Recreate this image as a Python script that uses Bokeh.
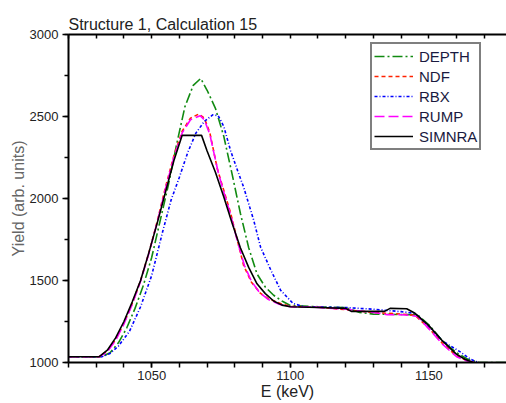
from bokeh.plotting import figure
from bokeh.models import Range1d, LinearAxis, SingleIntervalTicker, FixedTicker, Legend, LegendItem
from bokeh.embed import file_html
from bokeh.resources import INLINE

TITLE = "Structure 1, Calculation 15"
X_LABEL = "E (keV)"
Y_LABEL = "Yield (arb. units)"

E_DEPTH = [1020, 1032, 1035, 1038, 1041, 1044, 1047, 1050, 1053, 1056, 1059, 1062, 1065, 1067.7, 1070, 1073,
           1076, 1079, 1082, 1085, 1088, 1091, 1094, 1097, 1100, 1110, 1120, 1125, 1130, 1143, 1146, 1150,
           1155, 1160, 1164, 1168, 1180]
Y_DEPTH = [1035, 1035, 1060, 1120, 1210, 1330, 1470, 1640, 1860, 2080, 2330, 2560, 2690, 2732, 2660, 2550,
           2380, 2150, 1910, 1700, 1540, 1460, 1410, 1375, 1348, 1340, 1335, 1305, 1295, 1292, 1290, 1230,
           1130, 1060, 1020, 1000, 1000]

E_NDF = [1020, 1031, 1034, 1037, 1040, 1043, 1046, 1049, 1052, 1055, 1058, 1061, 1064, 1067, 1069, 1071,
         1073.7, 1076, 1078.5, 1081, 1083.2, 1086, 1089.3, 1092, 1096.5, 1100, 1110, 1120, 1130, 1140, 1145,
         1150, 1155, 1160, 1164, 1167]
Y_NDF = [1035, 1035, 1070, 1140, 1240, 1360, 1500, 1670, 1860, 2070, 2260, 2410, 2490, 2515, 2490, 2400,
         2180, 2050, 1910, 1740, 1590, 1490, 1421, 1390, 1360, 1342, 1338, 1322, 1305, 1295, 1288,
         1210, 1115, 1040, 1010, 1000]

E_RBX = [1020, 1032, 1035, 1038, 1042, 1046, 1050, 1054, 1057, 1060, 1063, 1066, 1069, 1072, 1074, 1076,
         1078.5, 1081, 1083.2, 1086.8, 1089.3, 1093, 1096.5, 1101, 1105, 1110, 1120, 1130, 1140, 1145,
         1150, 1155, 1161.5, 1165, 1168]
Y_RBX = [1035, 1035, 1055, 1100, 1190, 1340, 1530, 1800, 1990, 2130, 2280, 2400, 2470, 2510, 2505, 2440,
         2290, 2170, 2068, 1868, 1703, 1563, 1441, 1360, 1340, 1338, 1335, 1325, 1310, 1300,
         1220, 1130, 1063, 1020, 1000]

E_RUMP = [1020, 1031, 1034, 1037, 1040, 1043, 1046, 1049, 1052, 1055, 1058, 1061, 1064, 1067.5, 1069, 1071,
          1074, 1076, 1078.5, 1081, 1083.5, 1086, 1089, 1092, 1096, 1100, 1110, 1120, 1130, 1135, 1142,
          1146, 1150, 1155, 1160, 1164, 1167]
Y_RUMP = [1035, 1035, 1065, 1135, 1235, 1355, 1495, 1665, 1855, 2060, 2250, 2400, 2480, 2505, 2480, 2390,
          2160, 2040, 1900, 1735, 1590, 1495, 1425, 1385, 1355, 1340, 1336, 1325, 1305, 1292, 1290,
          1280, 1205, 1110, 1035, 1008, 1000]

E_SIMNRA = [1020, 1031, 1034, 1037, 1040, 1043, 1046, 1049, 1052, 1055, 1058, 1061, 1068, 1070, 1073, 1076,
            1079, 1082, 1085, 1088, 1091, 1094, 1097, 1100, 1110, 1120, 1122, 1134, 1136, 1142, 1145,
            1150, 1155, 1160, 1163, 1166]
Y_SIMNRA = [1035, 1035, 1075, 1150, 1250, 1370, 1500, 1670, 1850, 2040, 2230, 2385, 2385, 2290, 2160, 2010,
            1850, 1700, 1580, 1480, 1420, 1375, 1350, 1340, 1335, 1330, 1312, 1312, 1330, 1328, 1300,
            1225, 1130, 1050, 1020, 1000]

SERIES = [
    ("DEPTH", E_DEPTH, Y_DEPTH, "#118a11", "10 3 2 3"),
    ("NDF", E_NDF, Y_NDF, "#ff2200", "4 3"),
    ("RBX", E_RBX, Y_RBX, "#0000ff", "3 2 1 2"),
    ("RUMP", E_RUMP, Y_RUMP, "#ff00ff", "10 4"),
    ("SIMNRA", E_SIMNRA, Y_SIMNRA, "#000000", "solid"),
]

X_START, X_END = 1020, 1178
Y_START, Y_END = 1000, 3000

FONT = "Liberation Sans"

p = figure(width=506, height=403, x_range=Range1d(X_START, X_END), y_range=Range1d(Y_START, Y_END),
           output_backend="svg", toolbar_location=None,
           min_border_left=68, min_border_right=0, min_border_top=34, min_border_bottom=41,
           x_axis_label=X_LABEL, y_axis_label=Y_LABEL)
p.grid.visible = False
p.outline_line_color = None
p.background_fill_color = "white"
p.border_fill_color = "white"

p.title.text = TITLE
p.title.text_font = FONT
p.title.text_font_size = "16px"
p.title.text_font_style = "normal"
p.title.text_color = "#222222"
p.title.align = "left"
p.title.vertical_align = "top"
p.title.standoff = 0

xa = p.xaxis[0]
xa.ticker = SingleIntervalTicker(interval=50, num_minor_ticks=5)
ya = p.yaxis[0]
ya.ticker = SingleIntervalTicker(interval=500, num_minor_ticks=2)
for ax in (xa, ya):
    ax.axis_line_width = 2
    ax.axis_line_color = "black"
    ax.major_tick_line_width = 1.5
    ax.minor_tick_line_width = 1.5
    ax.major_tick_in = 0
    ax.minor_tick_in = 0
    ax.major_tick_out = 5
    ax.minor_tick_out = 5
    ax.major_label_text_font = FONT
    ax.major_label_text_font_size = "13px"
    ax.major_label_text_color = "#222222"
    ax.major_label_standoff = 4
    ax.axis_label_text_font = FONT
    ax.axis_label_text_font_style = "normal"
    ax.axis_label_text_font_size = "16px"
    ax.axis_label_standoff = 1
ya.minor_tick_out = 4
ya.major_tick_out = 6
ya.axis_label_text_color = "#666666"
ya.axis_label_standoff = 0
xa.major_label_standoff = 3
xa.axis_label_text_color = "#222222"
xa.axis_label_standoff = 0

top_minor = list(range(X_START, X_END + 1, 10))
top = LinearAxis(ticker=FixedTicker(ticks=[], minor_ticks=top_minor),
                 major_tick_in=0, major_tick_out=0, minor_tick_in=4, minor_tick_out=0,
                 axis_line_width=2, minor_tick_line_width=1.5)
p.add_layout(top, "above")

items = []
for name, xs, ys, color, dash in SERIES:
    r = p.line(xs, ys, line_color=color, line_width=1.6, line_dash=dash)
    items.append(LegendItem(label=name, renderers=[r]))

legend = Legend(items=items, location=(302, 212), label_text_font=FONT, label_text_font_size="15px",
                label_text_color="#1a1a40", glyph_width=39, glyph_height=20, label_height=20,
                label_standoff=6, padding=2, spacing=0, margin=0,
                border_line_color="black", border_line_width=2.5, background_fill_alpha=1)
p.add_layout(legend, "center")

open("out.html", "w").write(file_html(p, INLINE))
